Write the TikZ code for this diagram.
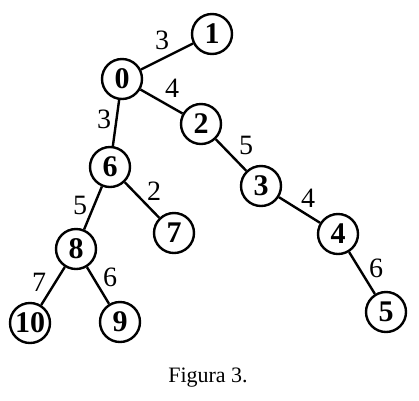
\documentclass[tikz,border=0pt]{standalone}
\usepackage{fontspec}
\setmainfont{Liberation Serif}
\newfontfamily\numfont{DejaVu Serif}
\begin{document}
\begin{tikzpicture}[x=1pt,y=-1pt,
  vtx/.style={circle,draw,line width=2.4pt,minimum size=40pt,inner sep=0pt,font=\fontsize{30}{30}\selectfont\bfseries,fill=white},
  wlab/.style={inner sep=0pt,font=\fontsize{28}{28}\selectfont},
  edge/.style={line width=2.4pt}]
\useasboundingbox (0,0) rectangle (419,400);
\node[vtx] (n1) at (212,34) {1};
\node[vtx] (n0) at (122,79) {0};
\node[vtx] (n2) at (201,124) {2};
\node[vtx] (n6) at (110,167) {6};
\node[vtx] (n3) at (261,186) {3};
\node[vtx] (n7) at (174,233) {7};
\node[vtx] (n4) at (338,234) {4};
\node[vtx] (n8) at (76,249) {8};
\node[vtx] (n10) at (30,323) {10};
\node[vtx] (n9) at (120,322) {9};
\node[vtx] (n5) at (386,312) {5};
\draw[edge] (n0) -- (n1);
\draw[edge] (n0) -- (n2);
\draw[edge] (n0) -- (n6);
\draw[edge] (n2) -- (n3);
\draw[edge] (n3) -- (n4);
\draw[edge] (n4) -- (n5);
\draw[edge] (n6) -- (n8);
\draw[edge] (n6) -- (n7);
\draw[edge] (n8) -- (n10);
\draw[edge] (n8) -- (n9);
\node[wlab] (l01) at (162,40) {3};
\node[wlab] (l02) at (172,88) {4};
\node[wlab] (l06) at (104,119) {3};
\node[wlab] (l23) at (246,145) {5};
\node[wlab] (l34) at (308,198) {4};
\node[wlab] (l45) at (376,268) {6};
\node[wlab] (l67) at (154,191) {2};
\node[wlab] (l68) at (80,205) {5};
\node[wlab] (l810) at (39,282) {7};
\node[wlab] (l89) at (110,277) {6};
\node[font=\fontsize{22}{22}\selectfont] (cap) at (208,378) {Figura 3.};
\end{tikzpicture}
\end{document}
